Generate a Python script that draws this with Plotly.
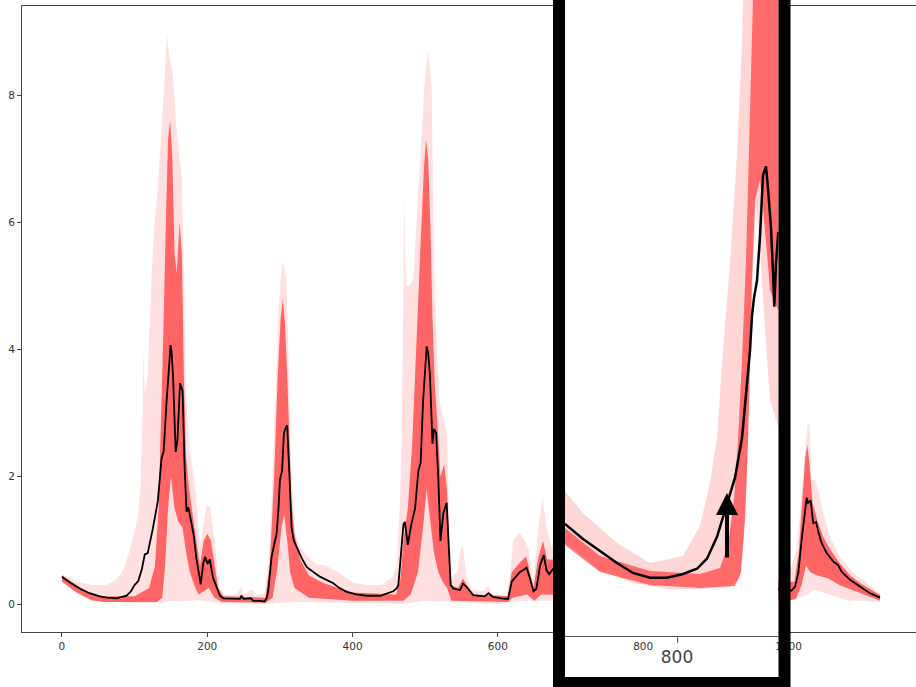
import plotly.graph_objects as go

# ---------------- main chart data ----------------
mean_x = [0, 12, 25, 38, 52, 62, 75, 89, 95, 100, 105, 110, 114, 118, 125, 132, 137, 140, 144, 147,
          149.5, 151, 153, 156.5, 159, 162.5, 166, 169, 171.5, 174, 178.5, 181.5, 185, 188, 191, 194.5,
          197, 200.5, 203.5, 208, 213, 217.5, 222, 235, 245, 247, 250, 260, 263, 272, 279, 282, 284,
          288.5, 292, 295.5, 298, 300, 303, 305.5, 308, 310, 313, 316, 319, 323, 330, 337, 346, 355,
          364, 373, 382, 392, 405, 419, 438, 456, 461, 463, 466, 467.5, 470, 472, 476, 481, 486, 490.5,
          493.7, 497, 499.5, 502, 504, 506.5, 510, 512, 515, 518, 521, 525, 529.5, 532, 535, 539, 548,
          552, 557, 566, 582, 587, 593.5, 605, 614, 619, 625.5, 630, 634.5, 639.5, 644, 649, 653, 658,
          663, 667, 670.5, 676,
          1000, 1004, 1009, 1013.5, 1018, 1022.7, 1025, 1027, 1030.5, 1034, 1038, 1041, 1045.5, 1052.5,
          1061.5, 1068.5, 1073, 1084.7, 1098.5, 1112, 1126]
mean_y = [0.43, 0.33, 0.24, 0.17, 0.12, 0.10, 0.09, 0.13, 0.20, 0.30, 0.36, 0.55, 0.78, 0.80, 1.18, 1.62,
          2.28, 2.40, 3.18, 3.70, 4.07, 3.95, 3.55, 2.39, 2.58, 3.47, 3.35, 2.10, 1.45, 1.52, 1.26, 1.07,
          0.72, 0.50, 0.31, 0.64, 0.74, 0.63, 0.70, 0.41, 0.25, 0.13, 0.09, 0.08, 0.08, 0.13, 0.08, 0.09,
          0.05, 0.05, 0.04, 0.10, 0.22, 0.74, 0.95, 1.11, 1.50, 1.95, 2.10, 2.69, 2.77, 2.81, 2.06, 1.21,
          1.00, 0.90, 0.72, 0.58, 0.50, 0.43, 0.38, 0.33, 0.25, 0.19, 0.15, 0.13, 0.13, 0.20, 0.25, 0.30,
          0.70, 0.95, 1.25, 1.29, 0.93, 1.26, 1.50, 2.09, 2.22, 3.18, 3.70, 4.05, 3.95, 3.60, 2.52, 2.75,
          2.69, 1.98, 0.99, 1.43, 1.59, 1.07, 0.30, 0.24, 0.22, 0.32, 0.27, 0.14, 0.12, 0.17, 0.11, 0.09,
          0.08, 0.35, 0.44, 0.50, 0.53, 0.57, 0.41, 0.20, 0.24, 0.60, 0.77, 0.53, 0.47, 0.55,
          0.22, 0.21, 0.27, 0.49, 1.00, 1.43, 1.67, 1.59, 1.63, 1.27, 1.29, 1.14, 0.96, 0.80, 0.67, 0.61,
          0.51, 0.38, 0.27, 0.17, 0.10]

hi_x = [0, 20, 40, 60, 75, 85, 92, 98, 104, 108, 111, 112, 114, 118, 122, 126, 131, 136, 140, 144.5,
        148, 153, 158, 162, 165, 167, 169, 171, 176, 181, 185, 190, 195, 199, 204, 208, 211, 217, 225,
        240, 247, 250, 262, 265, 278, 283, 286, 289, 292, 295, 298, 301, 303.7, 306, 309, 311.5, 314,
        316, 321, 328, 337, 350, 364, 378, 390, 400, 420, 440, 455, 460.5, 465, 467.5, 470, 471, 472.5,
        474, 478, 483.5, 488, 493, 498, 501, 504, 507, 509, 511, 513, 516, 520, 525, 530, 533, 536, 544,
        549, 552, 557, 565, 580, 587, 592, 612, 617, 621, 630, 637, 641.5, 649, 655.6, 661.6, 667, 674,
        680,
        1000, 1004, 1010, 1016, 1020, 1023, 1027, 1029, 1032, 1036.5, 1041, 1048, 1057, 1070.5, 1089,
        1108, 1126]
hi_y = [0.47, 0.36, 0.30, 0.30, 0.38, 0.55, 0.80, 1.05, 1.35, 1.80, 3.00, 4.00, 3.30, 3.60, 4.80, 5.80,
        6.40, 7.20, 8.00, 8.95, 8.60, 8.30, 7.40, 7.00, 6.70, 5.60, 4.30, 3.20, 2.45, 2.00, 1.67, 0.90,
        1.30, 1.56, 1.52, 1.20, 0.90, 0.24, 0.14, 0.14, 0.27, 0.14, 0.24, 0.13, 0.15, 0.50, 1.00, 1.80,
        2.60, 3.60, 4.60, 5.10, 5.36, 5.30, 5.10, 4.15, 3.00, 2.06, 1.12, 0.90, 0.76, 0.62, 0.60, 0.52,
        0.42, 0.34, 0.30, 0.30, 0.42, 0.60, 1.50, 2.60, 5.00, 6.48, 5.50, 5.00, 5.00, 5.10, 6.00, 7.10,
        8.00, 8.40, 8.70, 8.40, 8.00, 6.20, 5.00, 4.07, 3.18, 2.90, 2.69, 1.37, 0.41, 0.50, 0.90, 0.90,
        0.41, 0.22, 0.20, 0.30, 0.15, 0.13, 0.50, 1.00, 1.13, 1.00, 0.90, 0.35, 1.20, 1.67, 1.20, 0.90,
        1.00,
        0.60, 0.59, 0.80, 1.43, 2.00, 2.47, 2.87, 2.80, 1.95, 1.95, 1.79, 1.43, 1.06, 0.74, 0.49, 0.33,
        0.17]

lo_x = [0, 15, 30, 45, 60, 100, 140, 150, 160, 175, 185, 195, 210, 220, 280, 300, 330, 400, 470, 500,
        540, 600, 620, 640, 660, 680,
        1000, 1004, 1015, 1025, 1035, 1050, 1080, 1126]
lo_y = [0.38, 0.22, 0.12, 0.06, 0.03, 0.02, 0.02, 0.05, 0.04, 0.05, 0.06, 0.05, 0.03, 0.01, 0.00, 0.02,
        0.03, 0.01, 0.00, 0.05, 0.03, 0.00, 0.03, 0.05, 0.05, 0.05,
        0.05, 0.06, 0.10, 0.15, 0.22, 0.17, 0.06, 0.03]

core_hi_x = [0, 20, 40, 60, 100, 120, 128, 133, 137, 140, 143, 146, 149, 152, 155, 158, 162, 165, 168,
             171, 175, 180, 185, 190, 195, 200, 205, 210, 215, 222, 280, 286, 292, 297, 301, 304, 307,
             310, 313, 316, 320, 328, 340, 360, 380, 400, 460, 466, 470, 476, 482, 488, 493, 498, 501,
             504, 507, 510, 513, 517, 521, 526, 530, 533, 536, 545, 552, 557, 565, 614, 619, 630, 639,
             644, 649, 655, 662, 668, 676, 680,
             1000, 1008, 1014, 1019, 1023, 1026, 1029, 1033, 1040, 1048, 1058, 1070, 1085, 1100, 1126]
core_hi_y = [0.45, 0.30, 0.15, 0.12, 0.12, 0.25, 0.60, 1.50, 3.00, 4.50, 6.00, 7.30, 7.60, 7.00, 5.50,
             5.20, 6.00, 5.50, 3.50, 2.30, 1.80, 1.40, 1.00, 0.60, 1.00, 1.10, 1.00, 0.60, 0.25, 0.12,
             0.10, 0.60, 2.00, 3.60, 4.50, 4.80, 4.40, 3.60, 2.60, 1.60, 1.10, 0.70, 0.45, 0.33, 0.25,
             0.18, 0.15, 0.40, 1.00, 1.50, 2.50, 4.00, 5.50, 6.80, 7.30, 7.00, 6.00, 4.50, 3.50, 2.80,
             2.00, 2.20, 1.80, 0.90, 0.30, 0.25, 0.40, 0.30, 0.15, 0.12, 0.50, 0.65, 0.75, 0.50, 0.25,
             0.70, 1.00, 0.70, 0.70, 0.70,
             0.35, 0.35, 0.80, 1.60, 2.30, 2.50, 2.20, 1.60, 1.30, 1.05, 0.85, 0.65, 0.45, 0.32, 0.14]

core_lo_x = [0, 20, 40, 60, 130, 138, 142, 146, 150, 155, 160, 166, 171, 176, 182, 188, 195, 202, 210,
             220, 280, 290, 297, 302, 306, 310, 314, 320, 340, 400, 470, 480, 490, 497, 502, 507, 512,
             518, 524, 530, 536, 614, 620, 640, 650, 660, 680,
             1000, 1010, 1018, 1024, 1030, 1040, 1055, 1070, 1090, 1110, 1126]
core_lo_y = [0.35, 0.18, 0.06, 0.03, 0.03, 0.10, 0.60, 1.50, 2.00, 1.50, 1.30, 1.20, 0.80, 0.50, 0.30,
             0.15, 0.20, 0.25, 0.10, 0.03, 0.02, 0.10, 0.60, 1.20, 1.40, 1.00, 0.50, 0.25, 0.10, 0.05,
             0.05, 0.15, 0.50, 1.20, 1.80, 1.30, 0.80, 0.50, 0.35, 0.25, 0.05, 0.03, 0.10, 0.15, 0.05,
             0.15, 0.15,
             0.05, 0.08, 0.30, 0.60, 0.50, 0.45, 0.40, 0.30, 0.20, 0.12, 0.05]

main_xticks = [0, 200, 400, 600, 800, 1000]
main_yticks = [0, 2, 4, 6, 8]

# ---------------- magnified inset data ----------------
in_mean_x = [688, 706, 723, 740, 756, 773, 790, 806, 820, 830, 840, 850, 858, 865, 870, 873, 875, 877,
             880, 883, 886, 889, 891, 894, 896, 897.3, 899, 901.3]
in_mean_y = [0.862, 0.746, 0.654, 0.562, 0.485, 0.449, 0.449, 0.477, 0.517, 0.595, 0.763, 1.015, 1.218,
             1.523, 1.926, 2.195, 2.465, 2.600, 2.735, 3.072, 3.544, 3.612, 3.443, 3.139, 2.802, 2.533,
             2.869, 3.108]

in_hi_x = [688, 706, 740, 773, 806, 823, 833, 840, 846, 853, 860, 865, 867, 905]
in_hi_y = [1.115, 0.946, 0.715, 0.562, 0.615, 0.846, 1.185, 1.523, 2.200, 2.869, 3.715, 4.554, 5.200, 5.200]

in_lo_x = [688, 723, 756, 790, 823, 853, 863, 866, 870, 873, 876, 879, 883, 888, 893, 905]
in_lo_y = [0.715, 0.508, 0.408, 0.362, 0.362, 0.377, 0.446, 0.677, 1.185, 2.031, 2.869, 3.354, 2.969,
           2.354, 1.815, 1.508]

in_core_hi_x = [688, 723, 773, 823, 843, 851, 857, 861, 865, 869, 872, 875, 877, 905]
in_core_hi_y = [0.831, 0.615, 0.500, 0.477, 0.523, 0.700, 1.046, 1.508, 2.123, 2.892, 3.738, 4.585, 5.200,
                5.200]

in_core_lo_x = [688, 723, 773, 823, 858, 864, 868, 871, 873, 875, 878, 883, 888, 893, 905]
in_core_lo_y = [0.700, 0.492, 0.392, 0.369, 0.385, 0.492, 0.892, 1.508, 2.123, 2.738, 3.354, 3.508, 3.123,
                2.662, 2.431]

inset_xrange = [688, 901.5]
inset_yrange = [0, 4.892]
inset_xticks = [800]


def band(xu, yu, xl, yl):
    return list(xu) + list(xl)[::-1], list(yu) + list(yl)[::-1]


fig = go.Figure()

OUTER = "rgba(255,0,0,0.12)"
CORE = "rgba(255,0,0,0.55)"

# main chart
bx, by = band(hi_x, hi_y, lo_x, lo_y)
fig.add_trace(go.Scatter(x=bx, y=by, fill="toself", fillcolor=OUTER, line=dict(width=0),
                         mode="lines", hoverinfo="skip", showlegend=False))
cx, cy = band(core_hi_x, core_hi_y, core_lo_x, core_lo_y)
fig.add_trace(go.Scatter(x=cx, y=cy, fill="toself", fillcolor=CORE, line=dict(width=0),
                         mode="lines", hoverinfo="skip", showlegend=False))
fig.add_trace(go.Scatter(x=mean_x, y=mean_y, mode="lines", line=dict(color="black", width=1.8),
                         showlegend=False))

# inset: opaque white backdrop covering the part of the main chart underneath
x0i, x1i = inset_xrange
y0i, y1i = inset_yrange
fig.add_trace(go.Scatter(x=[x0i, x1i, x1i, x0i, x0i], y=[y0i, y0i, y1i, y1i, y0i], fill="toself",
                         fillcolor="white", line=dict(width=0), mode="lines", hoverinfo="skip",
                         showlegend=False, xaxis="x2", yaxis="y2"))
ibx, iby = band(in_hi_x, in_hi_y, in_lo_x, in_lo_y)
fig.add_trace(go.Scatter(x=ibx, y=iby, fill="toself", fillcolor="rgba(255,0,0,0.16)", line=dict(width=0),
                         mode="lines", hoverinfo="skip", showlegend=False, xaxis="x2", yaxis="y2"))
icx, icy = band(in_core_hi_x, in_core_hi_y, in_core_lo_x, in_core_lo_y)
fig.add_trace(go.Scatter(x=icx, y=icy, fill="toself", fillcolor="rgba(255,0,0,0.5)", line=dict(width=0),
                         mode="lines", hoverinfo="skip", showlegend=False, xaxis="x2", yaxis="y2"))
fig.add_trace(go.Scatter(x=in_mean_x, y=in_mean_y, mode="lines", line=dict(color="black", width=2.5),
                         showlegend=False, xaxis="x2", yaxis="y2"))

W, H = 916, 687
axfont = dict(family="DejaVu Sans", size=10.5, color="#333333")

fig.update_layout(
    width=W, height=H,
    margin=dict(l=0, r=0, t=0, b=0),
    paper_bgcolor="white", plot_bgcolor="rgba(0,0,0,0)",
    showlegend=False,
    xaxis=dict(domain=[22 / W, 1.0], range=[-55, 1175.5], showgrid=False, zeroline=False,
               showline=True, linecolor="#444", linewidth=1, mirror=True,
               ticks="outside", ticklen=4, tickcolor="#444", tickvals=main_xticks,
               tickfont=axfont, anchor="y"),
    yaxis=dict(domain=[(H - 632) / H, (H - 6) / H], range=[-0.44, 9.40], showgrid=False, zeroline=False,
               showline=True, linecolor="#444", linewidth=1,
               ticks="outside", ticklen=4, tickcolor="#444", tickvals=main_yticks,
               tickfont=axfont, anchor="x"),
    xaxis2=dict(domain=[565 / W, 778.5 / W], range=inset_xrange, showgrid=False, zeroline=False,
                showline=True, linecolor="#555", linewidth=1,
                ticks="outside", ticklen=6, tickcolor="#555", tickvals=inset_xticks,
                tickfont=dict(family="DejaVu Sans", size=17, color="#444"), anchor="y2"),
    yaxis2=dict(domain=[(H - 636) / H, 1.0], range=inset_yrange, visible=False, anchor="x2"),
)

# thick black frame around the inset
fig.add_shape(type="rect", xref="paper", yref="paper",
              x0=559 / W, x1=784.5 / W, y0=(H - 683) / H, y1=1.05,
              line=dict(color="black", width=12), fillcolor="rgba(0,0,0,0)", layer="above")

# arrow in the inset
fig.add_annotation(x=850, y=1.10, xref="x2", yref="y2", ax=0, ay=66, axref="pixel", ayref="pixel",
                   text="", showarrow=True, arrowhead=2, arrowsize=1.1, arrowwidth=4,
                   arrowcolor="black", standoff=0)

fig.write_html("out.html", config={"displayModeBar": False},
               post_script="document.body.style.margin='0px';document.body.style.overflow='hidden';")
